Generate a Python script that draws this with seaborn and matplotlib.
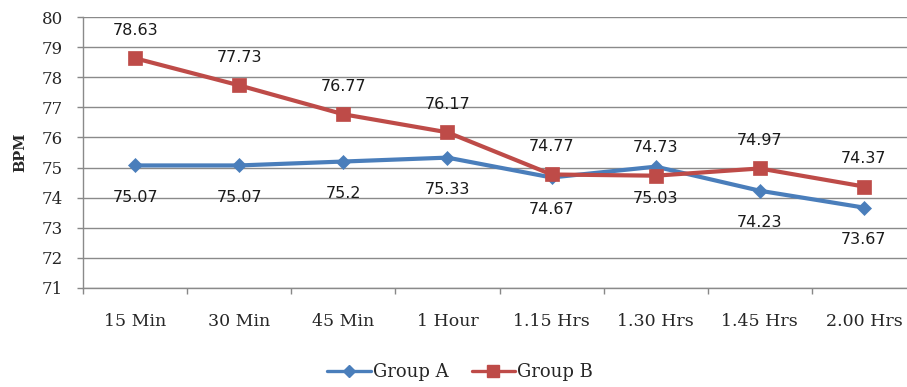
import matplotlib
matplotlib.use("Agg")
import matplotlib.pyplot as plt
from matplotlib.ticker import FixedLocator
import seaborn as sns
import pandas as pd

# Heart rate readings over time for two groups
categories = ["15 Min", "30 Min", "45 Min", "1 Hour", "1.15 Hrs", "1.30 Hrs", "1.45 Hrs", "2.00 Hrs"]
group_a = [75.07, 75.07, 75.2, 75.33, 74.67, 75.03, 74.23, 73.67]
group_b = [78.63, 77.73, 76.77, 76.17, 74.77, 74.73, 74.97, 74.37]
y_ticks = list(range(71, 81))

sns.set_theme(style="white")
serif = ["DejaVu Serif"]
sans = ["DejaVu Sans"]

blue = "#4A7EBB"
red = "#BE4B48"

df = pd.DataFrame({
    "pos": list(range(len(categories))) * 2,
    "BPM": group_a + group_b,
    "group": ["Group A"] * len(categories) + ["Group B"] * len(categories),
})

fig = plt.figure(figsize=(9.07, 3.87), dpi=100)
ax = fig.add_axes([83 / 907, 1 - 288 / 387, 833 / 907, 271 / 387])

sns.lineplot(
    data=df, x="pos", y="BPM", hue="group", style="group",
    palette={"Group A": blue, "Group B": red},
    markers={"Group A": "D", "Group B": "s"},
    dashes=False, linewidth=3.0, markersize=8.5,
    markeredgewidth=0.5, ax=ax, legend=False, zorder=3,
)
for line, ms in zip(ax.lines, [7.5, 9.5]):
    line.set_markersize(ms)
    line.set_markeredgecolor(line.get_color())

# Value labels: Group A below its points, Group B above
for i, v in enumerate(group_a):
    ax.annotate(f"{v:g}", (i, v), xytext=(0, -23), textcoords="offset points",
                ha="center", va="center", fontsize=11.5, family=sans, color="#1a1a1a")
for i, v in enumerate(group_b):
    ax.annotate(f"{v:g}", (i, v), xytext=(0, 20), textcoords="offset points",
                ha="center", va="center", fontsize=11.5, family=sans, color="#1a1a1a")

ax.set_xlim(-0.5, len(categories) - 0.5)
ax.set_ylim(71, 80)
ax.yaxis.set_major_locator(FixedLocator(y_ticks))
ax.set_xticks(range(len(categories)))
ax.set_xticklabels(categories, family=serif, fontsize=12.5)
ax.xaxis.set_minor_locator(FixedLocator([i + 0.5 for i in range(-1, len(categories))]))
ax.tick_params(axis="x", which="major", length=0, pad=18)
ax.tick_params(axis="x", which="minor", bottom=True, length=4.5, color="#888888", width=1)
ax.tick_params(axis="y", which="major", left=True, length=4.5, color="#888888", width=1, pad=10)
for lab in ax.get_yticklabels():
    lab.set_family(serif)
    lab.set_fontsize(12)

ax.grid(axis="y", color="#8a8a8a", linewidth=1)
ax.grid(axis="x", visible=False)
for s in ["top", "right"]:
    ax.spines[s].set_visible(False)
for s in ["left", "bottom"]:
    ax.spines[s].set_color("#8a8a8a")
    ax.spines[s].set_linewidth(1)

ax.set_xlabel("")
ax.set_ylabel("BPM", family=serif, fontsize=10.5, fontweight="bold", labelpad=10)

handles = [
    plt.Line2D([], [], color=blue, marker="D", markersize=6, linewidth=2.4, markeredgecolor=blue),
    plt.Line2D([], [], color=red, marker="s", markersize=8, linewidth=2.4, markeredgecolor=red),
]
fig.legend(handles, ["Group A", "Group B"], loc="center", bbox_to_anchor=(460 / 907, 1 - 372 / 387),
           ncol=2, frameon=False, prop={"family": serif, "size": 13},
           handlelength=2.4, handletextpad=0.1, columnspacing=1.3)

fig.savefig("out.png", dpi=100)
